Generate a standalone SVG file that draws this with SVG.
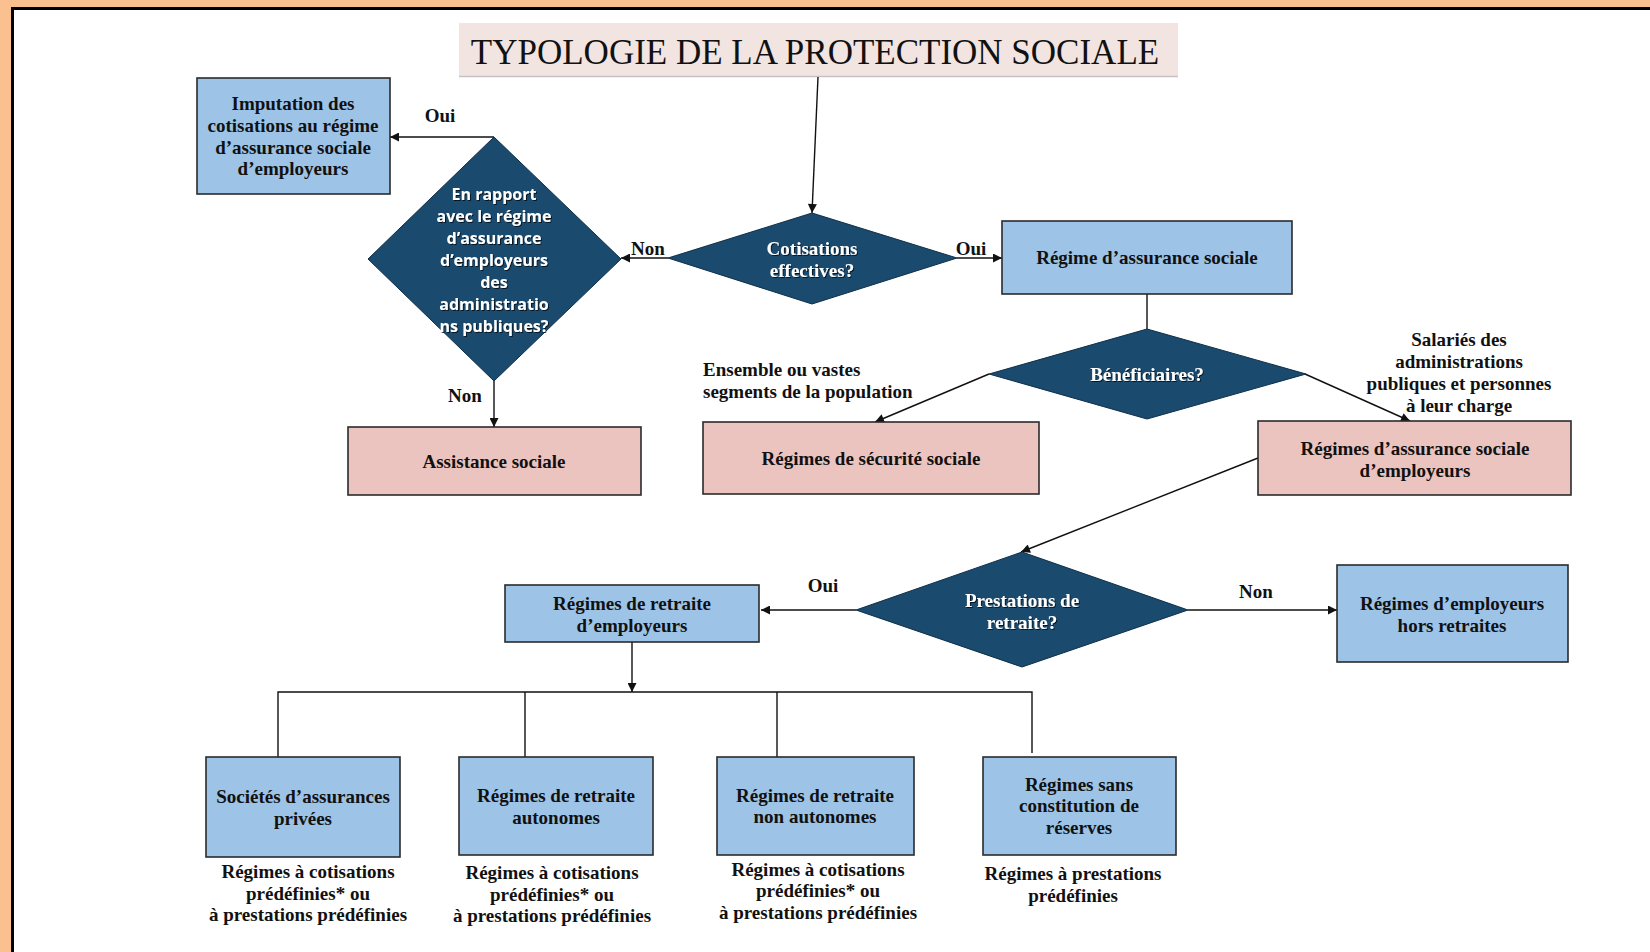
<svg xmlns="http://www.w3.org/2000/svg" width="1650" height="952" viewBox="0 0 1650 952">
  <style>
    .box { stroke: #2b2b2b; stroke-width: 1.6; }
    .blue { fill: #9DC3E6; }
    .pink { fill: #EBC4C0; }
    .dia { fill: #1A4A6E; stroke: #0f2f48; stroke-width: 1; }
    .t { font-family: "Liberation Serif", "Times New Roman", serif; font-weight: bold; font-size: 19px; fill: #111; text-anchor: middle; }
    .tl { font-family: "Liberation Serif", "Times New Roman", serif; font-weight: bold; font-size: 19px; fill: #111; }
    .w { font-family: "Liberation Serif", "Times New Roman", serif; font-weight: bold; font-size: 19px; fill: #fff; text-anchor: middle; filter: url(#ts); }
    .ws { font-family: "Open Sans", "Noto Sans", sans-serif; font-weight: bold; font-size: 16px; fill: #fff; text-anchor: middle; filter: url(#ts); }
    .lbl { font-family: "Liberation Serif", "Times New Roman", serif; font-weight: bold; font-size: 19px; fill: #111; text-anchor: middle; }
    .ln { stroke: #111; stroke-width: 1.4; fill: none; }
    .arr { marker-end: url(#ah); }
  </style>
  <defs>
    <marker id="ah" viewBox="0 0 10 10" refX="10" refY="5" markerWidth="11" markerHeight="9" markerUnits="userSpaceOnUse" orient="auto">
      <path d="M0,0 L10,5 L0,10 Z" fill="#111"/>
    </marker>
    <filter id="ts" x="-10%" y="-30%" width="120%" height="160%">
      <feDropShadow dx="1" dy="1" stdDeviation="0.7" flood-color="#000" flood-opacity="0.7"/>
    </filter>
  </defs>

  <!-- page frame -->
  <rect x="0" y="0" width="1650" height="952" fill="#FAC08F"/>
  <rect x="11" y="7" width="1639" height="945" fill="#fff"/>
  <path d="M12.5,952 L12.5,8.5 L1650,8.5" stroke="#000" stroke-width="3" fill="none"/>

  <!-- title -->
  <g id="title">
    <rect x="459" y="23" width="719" height="53" fill="#F2E4E0"/>
    <line x1="459" y1="76.5" x2="1178" y2="76.5" stroke="#c9c0c6" stroke-width="1.5"/>
    <text x="815" y="64" font-family="Liberation Serif, Times New Roman, serif" font-size="35" fill="#111" text-anchor="middle">TYPOLOGIE DE LA PROTECTION SOCIALE</text>
  </g>

  <!-- connectors -->
  <g id="connectors">
    <line class="ln arr" x1="818" y1="77" x2="812" y2="213"/>
    <line class="ln arr" x1="668" y1="258" x2="621" y2="258"/>
    <line class="ln arr" x1="957" y1="258" x2="1002" y2="258"/>
    <line class="ln arr" x1="494" y1="137" x2="390" y2="137"/>
    <line class="ln arr" x1="494" y1="381" x2="494" y2="427"/>
    <line class="ln" x1="1147" y1="294" x2="1147" y2="329"/>
    <line class="ln arr" x1="989" y1="374" x2="875" y2="422"/>
    <line class="ln arr" x1="1305" y1="374" x2="1410" y2="421"/>
    <line class="ln arr" x1="1258" y1="458" x2="1021" y2="552"/>
    <line class="ln arr" x1="856" y1="610" x2="761" y2="610"/>
    <line class="ln arr" x1="1188" y1="610" x2="1337" y2="610"/>
    <line class="ln arr" x1="632" y1="642" x2="632" y2="692"/>
    <path class="ln" d="M278,757 L278,692 L1032,692 L1032,753"/>
    <line class="ln" x1="525" y1="692" x2="525" y2="757"/>
    <line class="ln" x1="777" y1="692" x2="777" y2="757"/>
  </g>

  <!-- connector labels -->
  <g id="labels">
    <text class="lbl" x="440" y="122">Oui</text>
    <text class="lbl" x="648" y="255">Non</text>
    <text class="lbl" x="971" y="255">Oui</text>
    <text class="lbl" x="465" y="402">Non</text>
    <text class="tl" x="703" y="376">Ensemble ou vastes</text>
    <text class="tl" x="703" y="398">segments de la population</text>
    <text class="lbl" x="1459" y="346">Salariés des</text>
    <text class="lbl" x="1459" y="368">administrations</text>
    <text class="lbl" x="1459" y="390">publiques et personnes</text>
    <text class="lbl" x="1459" y="412">à leur charge</text>
    <text class="lbl" x="823" y="592">Oui</text>
    <text class="lbl" x="1256" y="598">Non</text>
  </g>

  <!-- decision nodes -->
  <g id="cotisations">
    <polygon class="dia" points="812,213 957,258 812,304 668,258"/>
    <text class="w" x="812" y="255">Cotisations</text>
    <text class="w" x="812" y="277">effectives?</text>
  </g>
  <g id="en-rapport">
    <polygon class="dia" points="494,137 621,259 494,381 368,259"/>
    <text class="ws" x="494" y="200">En rapport</text>
    <text class="ws" x="494" y="222">avec le régime</text>
    <text class="ws" x="494" y="244">d’assurance</text>
    <text class="ws" x="494" y="266">d’employeurs</text>
    <text class="ws" x="494" y="288">des</text>
    <text class="ws" x="494" y="310">administratio</text>
    <text class="ws" x="494" y="332">ns publiques?</text>
  </g>
  <g id="beneficiaires">
    <polygon class="dia" points="1147,329 1306,374 1147,419 989,374"/>
    <text class="w" x="1147" y="381">Bénéficiaires?</text>
  </g>
  <g id="prestations">
    <polygon class="dia" points="1022,552 1188,610 1022,667 856,610"/>
    <text class="w" x="1022" y="607">Prestations de</text>
    <text class="w" x="1022" y="629">retraite?</text>
  </g>

  <!-- boxes -->
  <g id="imputation">
    <rect class="box blue" x="197" y="78" width="193" height="116"/>
    <text class="t" x="293" y="110">Imputation des</text>
    <text class="t" x="293" y="132">cotisations au régime</text>
    <text class="t" x="293" y="154">d’assurance sociale</text>
    <text class="t" x="293" y="175">d’employeurs</text>
  </g>
  <g id="regime-assurance">
    <rect class="box blue" x="1002" y="221" width="290" height="73"/>
    <text class="t" x="1147" y="264">Régime d’assurance sociale</text>
  </g>
  <g id="assistance">
    <rect class="box pink" x="348" y="427" width="293" height="68"/>
    <text class="t" x="494" y="468">Assistance sociale</text>
  </g>
  <g id="securite">
    <rect class="box pink" x="703" y="422" width="336" height="72"/>
    <text class="t" x="871" y="465">Régimes de sécurité sociale</text>
  </g>
  <g id="assurance-employeurs">
    <rect class="box pink" x="1258" y="421" width="313" height="74"/>
    <text class="t" x="1415" y="455">Régimes d’assurance sociale</text>
    <text class="t" x="1415" y="477">d’employeurs</text>
  </g>
  <g id="retraite-employeurs">
    <rect class="box blue" x="505" y="585" width="254" height="57"/>
    <text class="t" x="632" y="610">Régimes de retraite</text>
    <text class="t" x="632" y="632">d’employeurs</text>
  </g>
  <g id="hors-retraites">
    <rect class="box blue" x="1337" y="565" width="231" height="97"/>
    <text class="t" x="1452" y="610">Régimes d’employeurs</text>
    <text class="t" x="1452" y="632">hors retraites</text>
  </g>
  <g id="societes">
    <rect class="box blue" x="206" y="757" width="194" height="100"/>
    <text class="t" x="303" y="803">Sociétés d’assurances</text>
    <text class="t" x="303" y="825">privées</text>
    <text class="t" x="308" y="878">Régimes à cotisations</text>
    <text class="t" x="308" y="900">prédéfinies* ou</text>
    <text class="t" x="308" y="921">à prestations prédéfinies</text>
  </g>
  <g id="autonomes">
    <rect class="box blue" x="459" y="757" width="194" height="98"/>
    <text class="t" x="556" y="802">Régimes de retraite</text>
    <text class="t" x="556" y="824">autonomes</text>
    <text class="t" x="552" y="879">Régimes à cotisations</text>
    <text class="t" x="552" y="901">prédéfinies* ou</text>
    <text class="t" x="552" y="922">à prestations prédéfinies</text>
  </g>
  <g id="non-autonomes">
    <rect class="box blue" x="717" y="757" width="197" height="98"/>
    <text class="t" x="815" y="802">Régimes de retraite</text>
    <text class="t" x="815" y="823">non autonomes</text>
    <text class="t" x="818" y="876">Régimes à cotisations</text>
    <text class="t" x="818" y="897">prédéfinies* ou</text>
    <text class="t" x="818" y="919">à prestations prédéfinies</text>
  </g>
  <g id="sans-reserves">
    <rect class="box blue" x="983" y="757" width="193" height="98"/>
    <text class="t" x="1079" y="791">Régimes sans</text>
    <text class="t" x="1079" y="812">constitution de</text>
    <text class="t" x="1079" y="834">réserves</text>
    <text class="t" x="1073" y="880">Régimes à prestations</text>
    <text class="t" x="1073" y="902">prédéfinies</text>
  </g>
</svg>
